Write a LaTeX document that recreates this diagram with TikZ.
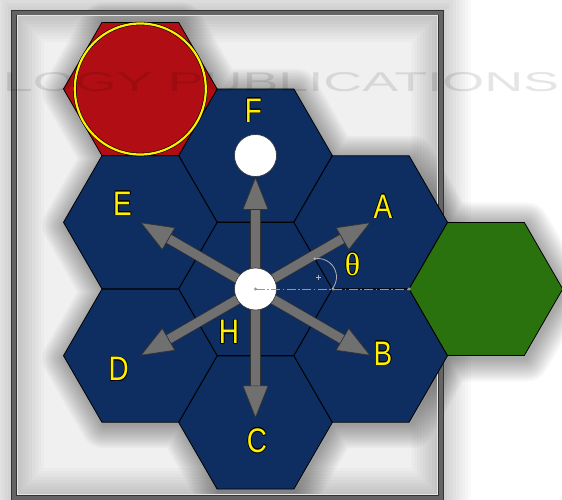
\documentclass[tikz,border=0pt]{standalone}
\usepackage{fontspec}
\usepackage{graphicx}
\usepackage{contour}
\usetikzlibrary{shapes.geometric,arrows.meta,calc}
\newfontfamily\labfont[FakeStretch=0.82]{Liberation Sans}
\newfontfamily\thfont{Liberation Serif}
\newfontfamily\wmfont{Liberation Sans}
\contourlength{0.6pt}
\definecolor{hexblue}{RGB}{14,45,96}
\definecolor{hexred}{RGB}{176,14,20}
\definecolor{hexgreen}{RGB}{42,114,14}
\definecolor{labyellow}{RGB}{255,240,0}
\definecolor{arrowgray}{RGB}{112,112,112}
\definecolor{framegray}{RGB}{100,100,100}
\definecolor{bggray}{RGB}{240,240,240}
\definecolor{dashgray}{RGB}{150,150,150}
\tikzset{
  hexa/.style={regular polygon, regular polygon sides=6, minimum size=153.6pt,
    inner sep=0pt, outer sep=0pt, draw=black, line width=0.8pt},
  wcirc/.style={circle, fill=white, draw=black!80, line width=0.6pt,
    minimum size=42pt, inner sep=0pt},
  arrbg/.style={line width=10.6pt, draw=black!80, shorten >=22pt},
  arrfg/.style={line width=9pt, draw=arrowgray,
    -{Triangle[length=33pt,width=26pt,line width=0.7pt,fill=arrowgray,color=black!80]}},
  lab/.style={text=labyellow, font=\labfont\fontsize{34}{34}\selectfont, inner sep=0pt},
  thlab/.style={text=labyellow, font=\thfont\fontsize{32}{32}\selectfont, inner sep=0pt},
  dashline/.style={draw=dashgray, line width=0.9pt,
    dash pattern=on 9pt off 2.5pt on 1.5pt off 2.5pt},
  dotmark/.style={fill=dashgray},
}
\begin{document}
\begin{tikzpicture}[x=1pt,y=-1pt]
\useasboundingbox (0,0) rectangle (562,500);
\fill[white] (0,0) rectangle (562,500);
\fill[bggray] (12,10) rectangle (443,500);
% frame glow
\foreach \w in {60,54,...,6}
  \draw[black, opacity=0.018, line width=\w pt] (14,12.5) rectangle (441,498);
% hex centres
\coordinate (cH) at (255.5,289);
\coordinate (cF) at (255.5,155.5);
\coordinate (cC) at (255.5,422.5);
\coordinate (cE) at (140.3,222.3);
\coordinate (cD) at (140.3,355.7);
\coordinate (cA) at (370.7,222.3);
\coordinate (cB) at (370.7,355.7);
\coordinate (cG) at (485.9,289);
\coordinate (cR) at (140.3,89);
% hex glow
\foreach \w in {46,42,...,2} {
  \begin{scope}[transparency group, opacity=0.03]
    \foreach \c in {cH,cF,cC,cE,cD,cA,cB,cG,cR}
      \node[hexa, draw=black, fill=black, line width=\w pt, line join=round] at ($(\c)+(2,3)$) {};
  \end{scope}
}
% frame
\draw[line width=5pt, framegray] (13.8,12.5) rectangle (440.5,497.5);
\draw[black!80, line width=0.6pt] (11.3,10) rectangle (443,500.2);
\draw[black!80, line width=0.6pt] (16.3,15) rectangle (438,495);
\draw[white!80!gray, line width=0.8pt] (17,15.7) rectangle (437.3,494.3);
% hexes
\node[hexa, fill=hexblue] (hH) at (cH) {};
\node[hexa, fill=hexblue] (hF) at (cF) {};
\node[hexa, fill=hexblue] (hC) at (cC) {};
\node[hexa, fill=hexblue] (hE) at (cE) {};
\node[hexa, fill=hexblue] (hD) at (cD) {};
\node[hexa, fill=hexblue] (hA) at (cA) {};
\node[hexa, fill=hexblue] (hB) at (cB) {};
\node[hexa, fill=hexgreen] (hG) at (cG) {};
\node[hexa, fill=hexred] (hR) at (cR) {};
\node[circle, fill=hexred, draw=black, line width=0.6pt, double=labyellow,
  double distance=2.2pt, minimum size=131pt, inner sep=0pt] (rc) at (cR) {};
% arrows
\draw[arrbg] (hH.center) -- (hA.center);
\draw[arrbg] (hH.center) -- (hB.center);
\draw[arrbg] (hH.center) -- (hD.center);
\draw[arrbg] (hH.center) -- (hE.center);
\draw[arrbg, shorten >=26pt] (hH.center) -- (hC.center);
\draw[arrbg, shorten >=0pt] (hH.center) -- ($(hF.center)+(0,42)$);
\draw[arrfg] (hH.center) -- (hA.center);
\draw[arrfg] (hH.center) -- (hB.center);
\draw[arrfg] (hH.center) -- (hD.center);
\draw[arrfg] (hH.center) -- (hE.center);
\draw[arrfg, shorten >=4pt] (hH.center) -- (hC.center);
% white circles
\node[wcirc] (fc) at (hF.center) {};
\draw[arrfg] (hH.center) -- (fc.south);
\node[wcirc] (hc) at (hH.center) {};
% angle construction
\coordinate (tc) at (318,277);
\coordinate (te) at (333,289);
\draw[dashline] (hc.center) -- (hG.west);
\fill[dotmark] (hc.center) circle[radius=1.7];
\fill[dotmark] (te) circle[radius=1.7];
\fill[dotmark] (hG.west) circle[radius=1.7];
\draw[gray!60, line width=0.8pt] (tc) ++(40:18.5) arc[start angle=40, end angle=-100, radius=18.5];
\fill[gray!60] ($(tc)+(-100:18.5)$) circle[radius=1.4];
\draw[gray!60, line width=0.5pt] ($(tc)+(-2.5,0)$) -- ($(tc)+(2.5,0)$) ($(tc)+(0,-2.5)$) -- ($(tc)+(0,2.5)$);
% watermark
\node[text=black, text opacity=0.1, font=\wmfont, inner sep=0pt] (wm) at (281,82.5)
  {\resizebox{556pt}{19pt}{LOGY PUBLICATIONS}};
% labels
\node[lab] (lF) at (253.3,111) {\contour{black}{F}};
\node[lab] (lE) at (122.5,204) {\contour{black}{E}};
\node[lab] (lA) at (383,207) {\contour{black}{A}};
\node[lab] (lB) at (383,354) {\contour{black}{B}};
\node[lab] (lC) at (257,441) {\contour{black}{C}};
\node[lab] (lD) at (118.7,369.3) {\contour{black}{D}};
\node[lab] (lH) at (229,332.3) {\contour{black}{H}};
\node[thlab] (lth) at (352.5,264.7) {\contour{black}{θ}};
\end{tikzpicture}
\end{document}
